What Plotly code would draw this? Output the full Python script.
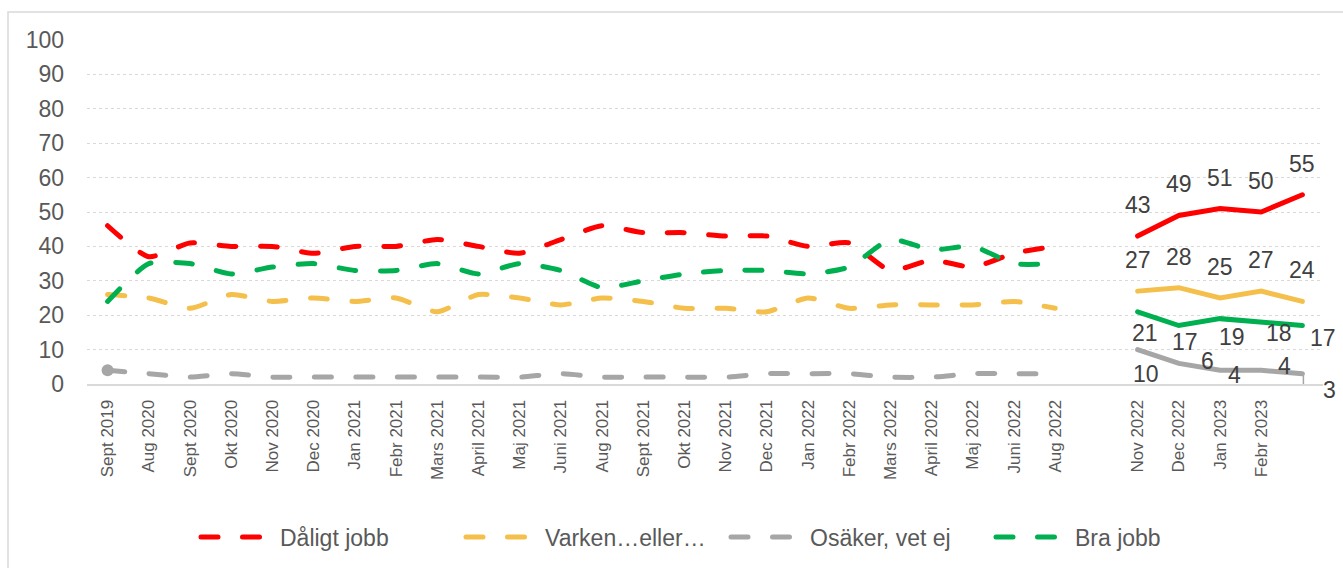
import plotly.graph_objects as go

categories = ["Sept 2019", "Aug 2020", "Sept 2020", "Okt 2020", "Nov 2020", "Dec 2020",
              "Jan 2021", "Febr 2021", "Mars 2021", "April 2021", "Maj 2021", "Juni 2021",
              "Aug 2021", "Sept 2021", "Okt 2021", "Nov 2021", "Dec 2021", "Jan 2022",
              "Febr 2022", "Mars 2022", "April 2022", "Maj 2022", "Juni 2022", "Aug 2022",
              "", "Nov 2022", "Dec 2022", "Jan 2023", "Febr 2023", ""]

daligt = [46, 37, 41, 40, 40, 38, 40, 40, 42, 40, 38, 42, 46, 44, 44, 43, 43, 40, 41, 33,
          36, 34, 38, 40, None, 43, 49, 51, 50, 55]
varken = [26, 25, 22, 26, 24, 25, 24, 25, 21, 26, 25, 23, 25, 24, 22, 22, 21, 25, 22, 23,
          23, 23, 24, 22, None, 27, 28, 25, 27, 24]
osaker = [4, 3, 2, 3, 2, 2, 2, 2, 2, 2, 2, 3, 2, 2, 2, 2, 3, 3, 3, 2,
          2, 3, 3, 3, None, 10, 6, 4, 4, 3]
bra = [24, 35, 35, 32, 34, 35, 33, 33, 35, 32, 35, 33, 28, 30, 32, 33, 33, 32, 34, 42,
       39, 40, 35, 35, None, 21, 17, 19, 18, 17]

series_names = ["Dåligt jobb", "Varken…eller…", "Osäker, vet ej", "Bra jobb"]
series_values = [daligt, varken, osaker, bra]
colors = ["#FF0000", "#F4BF4B", "#A6A6A6", "#00B050"]

# label offsets (pixels) for the solid segment labels
label_dx = [[0] * 5, [0] * 5, [8, 29, 14, 23, 27], [7, 6, 12, 18, 21]]
label_dy = [[31] * 5, [31] * 5, [-24, 2, -5, 4, -16], [-21, -16, -18, -11, -12]]

W, H = 1343, 568
ML, MR, MT, MB = 87, 20, 40, 184
PW, PH = W - ML - MR, H - MT - MB
FONT = "Liberation Sans, Arial"

xs = list(range(len(categories)))
fig = go.Figure()

for si in range(4):
    vals = series_values[si]
    gap = vals.index(None)
    col = colors[si]
    # dashed historical part
    fig.add_trace(go.Scatter(
        x=xs[:gap], y=vals[:gap], mode="lines", name=series_names[si],
        line=dict(color=col, width=5, dash="17px,24.5px", shape="spline", smoothing=0.6),
        showlegend=True, hoverinfo="skip"))
    # solid recent part
    fig.add_trace(go.Scatter(
        x=xs[gap + 1:], y=vals[gap + 1:], mode="lines", name=series_names[si],
        line=dict(color=col, width=5), showlegend=False, hoverinfo="skip"))
    for k, (xv, yv) in enumerate(zip(xs[gap + 1:], vals[gap + 1:])):
        fig.add_annotation(x=xv, y=yv, text=str(yv), showarrow=False,
                           xshift=label_dx[si][k], yshift=label_dy[si][k],
                           font=dict(family=FONT, size=23, color="#404040"))

# marker on first grey point
fig.add_trace(go.Scatter(x=[xs[0]], y=[osaker[0]], mode="markers",
                         marker=dict(color=colors[2], size=12), showlegend=False, hoverinfo="skip"))

# leader line for last grey label
fig.add_shape(type="path", xref="x", yref="y", xsizemode="pixel", ysizemode="pixel",
              xanchor=xs[-1], yanchor=osaker[-1], path="M1,-2 L1,-16 L15,-16",
              line=dict(color="#A6A6A6", width=1.5))

# outer chart border
fig.add_shape(type="rect", xref="paper", yref="paper",
              x0=(8 - ML) / PW, x1=(W + 20 - ML) / PW,
              y0=(MT + PH - (H + 20)) / PH, y1=1 + (MT - 12) / PH,
              line=dict(color="#D9D9D9", width=1.5), layer="below")

fig.update_layout(
    width=W, height=H,
    margin=dict(l=ML, r=MR, t=MT, b=MB, autoexpand=False),
    paper_bgcolor="white", plot_bgcolor="white",
    font=dict(family=FONT, color="#595959"),
    showlegend=True,
    legend=dict(orientation="h", x=(196 - ML) / PW, xanchor="left", y=-0.445, yanchor="middle",
                font=dict(size=23, color="#595959"), itemwidth=74,
                entrywidth=176, entrywidthmode="pixels", traceorder="normal"),
    xaxis=dict(range=[-0.5, len(categories) - 0.5], tickmode="array", tickvals=xs,
               ticktext=categories, tickangle=-90, showgrid=False, zeroline=False,
               showline=True, linecolor="#D9D9D9", linewidth=2, ticks="",
               ticklabelstandoff=7, automargin=False,
               tickfont=dict(size=17, color="#595959")),
    yaxis=dict(range=[0, 100], dtick=10, showgrid=True, gridcolor="#D9D9D9", griddash="dot",
               gridwidth=1, zeroline=False, showline=False, ticks="", automargin=False,
               ticklabelstandoff=22, tickfont=dict(size=23, color="#595959")),
)

post = ("var s=document.createElement('style');"
        "s.innerHTML='body{margin:0 !important;} .js-line{stroke-linecap:round !important;}';"
        "document.head.appendChild(s);")
fig.write_html("out.html", post_script=post, config={"displayModeBar": False})
